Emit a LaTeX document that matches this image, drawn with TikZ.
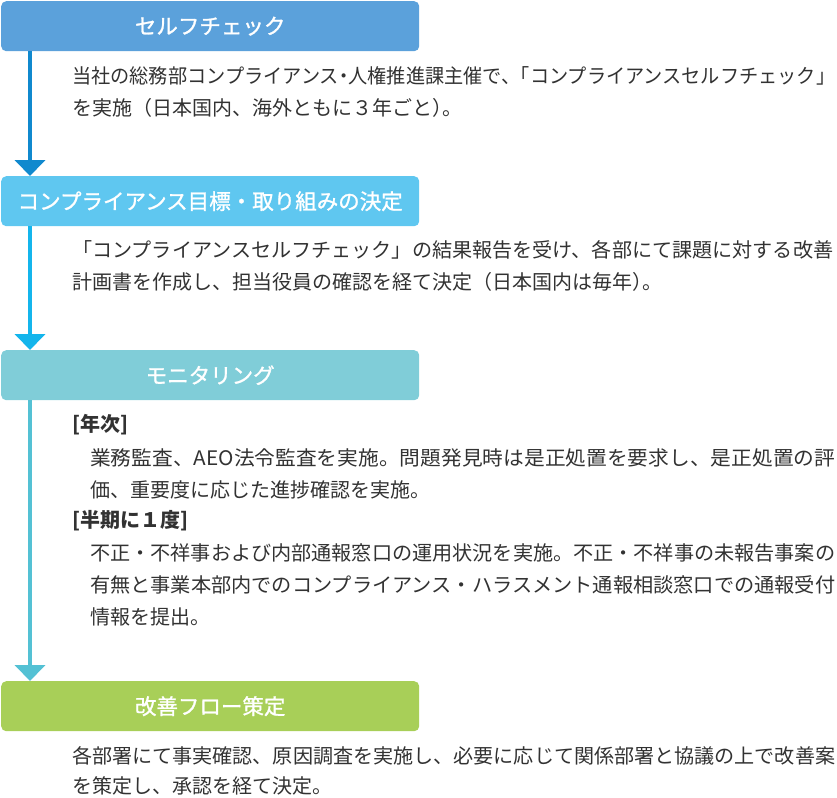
\documentclass[tikz,border=0pt]{standalone}
\usepackage{fontspec}
\setmainfont{Noto Sans CJK JP}
\newfontfamily\headfont[FakeBold=1.2]{Noto Sans CJK JP}
\usetikzlibrary{arrows.meta}

\definecolor{ink}{RGB}{50,50,50}
\definecolor{checkfill}{RGB}{91,161,219}
\definecolor{checkline}{RGB}{16,137,206}
\definecolor{goalfill}{RGB}{95,199,240}
\definecolor{goalline}{RGB}{20,181,236}
\definecolor{monfill}{RGB}{128,205,216}
\definecolor{monline}{RGB}{84,193,212}
\definecolor{fixfill}{RGB}{168,207,88}

% a line of text spread to a given width
\newcommand{\fitline}[2]{\resizebox{#1}{\height}{#2}}

\begin{document}
\begin{tikzpicture}[x=1pt, y=-1pt, >={Triangle[width=30pt,length=16pt]},
    box/.style={rounded corners=5pt, minimum width=418pt, minimum height=50pt,
        anchor=north west, inner sep=0pt, text=white,
        font=\headfont\fontsize{21.5}{24}\selectfont},
    txt/.style={anchor=west, inner sep=0pt, text=ink,
        font=\fontsize{20}{24}\selectfont},
    head/.style={txt, font=\bfseries\fontsize{20}{24}\selectfont},
    flow/.style={->, line width=4pt}]
    \useasboundingbox (0,0) rectangle (837,797);
    \coordinate (spine) at (30,0);

    % the four steps
    \node[box, fill=checkfill] (check) at (1,1) {セルフチェック};
    \node[box, fill=goalfill] (goal) at (1,176) {コンプライアンス目標・取り組みの決定};
    \node[box, fill=monfill] (mon) at (1,350) {モニタリング};
    \node[box, fill=fixfill] (fix) at (1,681) {改善フロー策定};

    \draw[flow, checkline] (check.south -| spine) -- (goal.north -| spine);
    \draw[flow, goalline] (goal.south -| spine) -- (mon.north -| spine);
    \draw[flow, monline] (mon.south -| spine) -- (fix.north -| spine);

    % texts
    \node[txt] (check1) at (72,76) {\fitline{763pt}{当社の総務部コンプライアンス\kern-.25em・\kern-.25em人権推進課主催で、\kern-.5em「コンプライアンスセルフチェック」}};
    \node[txt] (check2) at (72,108) {を実施（日本国内、海外ともに３年ごと）\kern-.5em。};

    \node[txt] (goal1) at (72,250) {\fitline{761pt}{「コンプライアンスセルフチェック」の結果報告を受け、各部にて課題に対する改善}};
    \node[txt] (goal2) at (72,282) {計画書を作成し、担当役員の確認を経て決定（日本国内は毎年）\kern-.5em。};

    \node[head] (year) at (72,425) {[年次]};
    \node[txt] (year1) at (90,458) {\fitline{745pt}{業務監査、AEO法令監査を実施。問題発見時は是正処置を要求し、是正処置の評}};
    \node[txt] (year2) at (90,490) {価、重要度に応じた進捗確認を実施。};
    \node[head] (half) at (72,521) {[半期に１度]};
    \node[txt] (half1) at (90,553) {\fitline{745pt}{不正・不祥事および内部通報窓口の運用状況を実施。不正・不祥事の未報告事案の}};
    \node[txt] (half2) at (90,585) {\fitline{745pt}{有無と事業本部内でのコンプライアンス・ハラスメント通報相談窓口での通報受付}};
    \node[txt] (half3) at (90,617) {情報を提出。};

    \node[txt] (fix1) at (72,756) {\fitline{763pt}{各部署にて事実確認、原因調査を実施し、必要に応じて関係部署と協議の上で改善案}};
    \node[txt] (fix2) at (72,786) {を策定し、承認を経て決定。};
\end{tikzpicture}
\end{document}
